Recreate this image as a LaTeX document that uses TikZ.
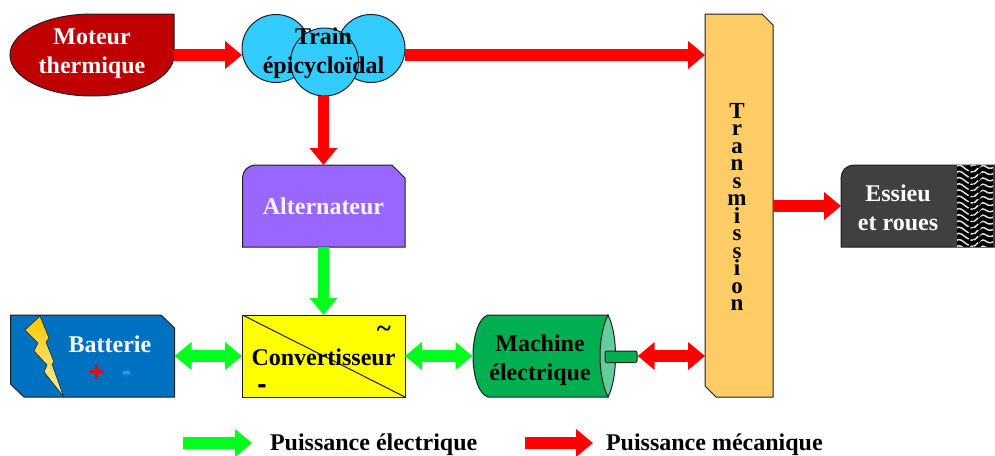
\documentclass[tikz,border=0pt]{standalone}
\usepackage{fontspec}
\setmainfont{Liberation Serif}
\setsansfont{Liberation Sans}
\usetikzlibrary{arrows.meta,calc}
\definecolor{redM}{RGB}{192,0,0}
\definecolor{blueT}{RGB}{51,204,255}
\definecolor{violetA}{RGB}{153,102,255}
\definecolor{blueB}{RGB}{0,112,192}
\definecolor{greenM}{RGB}{0,176,80}
\definecolor{greenL}{RGB}{102,204,153}
\definecolor{orangeT}{RGB}{255,204,102}
\definecolor{greyE}{RGB}{64,64,64}
\definecolor{edgeC}{RGB}{30,30,40}
\definecolor{flowG}{RGB}{0,255,30}
\definecolor{flowR}{RGB}{255,0,0}
\definecolor{yel}{RGB}{255,255,0}
\definecolor{boltA}{RGB}{255,200,0}
\definecolor{boltB}{RGB}{255,250,0}
\definecolor{boltC}{RGB}{240,240,170}
\definecolor{minusB}{RGB}{0,176,240}
\tikzset{
  x=1pt,y=-1pt,
  shapeline/.style={draw=edgeC,line width=1pt},
  lab/.style={font=\fontsize{24}{29}\selectfont\bfseries,align=center,inner sep=0pt,outer sep=0pt},
  sign/.style={font=\fontsize{28}{28}\selectfont\sffamily\bfseries,inner sep=0pt,outer sep=0pt},
  meca/.style={flowR,line width=11.5pt,-{Triangle[length=17pt,width=27pt]}},
  meca2/.style={flowR,line width=11.5pt,{Triangle[length=17pt,width=27pt]}-{Triangle[length=17pt,width=27pt]}},
  elec/.style={flowG,line width=11.5pt,-{Triangle[length=17pt,width=27pt]}},
  elec2/.style={flowG,line width=11.5pt,{Triangle[length=17pt,width=27pt]}-{Triangle[length=17pt,width=27pt]}},
}
\begin{document}
\begin{tikzpicture}
\useasboundingbox (0,0) rectangle (995,455);
% Moteur
\path[fill=redM,shapeline] (174,14) -- (174,55) .. controls (174,77.6) and (137.3,96) .. (92,96) .. controls (46.7,96) and (10,77.6) .. (10,55) .. controls (10,32.4) and (46.7,14) .. (92,14) -- cycle;
\node[lab,minimum width=164pt,minimum height=82pt] (mot) at (92,55) {};
\node[lab,text=white] (motl) at (92,54) {Moteur\\thermique};
% Train
\foreach \cx/\cy in {276/48.5,371/48.5,324.5/62}
  \path[fill=blueT,shapeline] (\cx,\cy) circle[radius=34];
\node[lab,minimum width=163pt,minimum height=82pt] (train) at (323.5,55) {};
\node[lab] (trainl) at (323.5,53.5) {Train\\épicycloïdal};
% Alternateur
\path[fill=violetA,shapeline] (242.5,247) -- (242.5,178) .. controls (242.5,170.8) and (248.3,165) .. (255.5,165) -- (392,165) -- (405,178) -- (405,247) -- cycle;
\node[lab,text=white!92!violetA,minimum width=163pt,minimum height=82pt] (alt) at (323.5,206) {Alternateur};
% Batterie
\path[fill=blueB,shapeline] (10.5,315) -- (161,315) -- (174.5,328) -- (174.5,397) -- (24,397) -- (10.5,384) -- cycle;
\node[lab,minimum width=164pt,minimum height=82pt] (bat) at (92.5,356) {};
\node[lab,text=white] (batl) at (110,344) {Batterie};
\node[sign,text=flowR] (plus) at (96.5,373) {+};
\node[sign,text=minusB] (minus) at (126.5,376) {-};
\shade[top color=boltA,middle color=boltB,bottom color=boltC,draw=edgeC,line width=.6pt]
  (40,316) -- (25,330) -- (38,343) -- (34,351) -- (47,365) -- (44,372) -- (63.5,396.5) -- (52,364) -- (54,362) -- (46,342) -- (49,338) -- cycle;
% Convertisseur
\path[fill=yel,shapeline] (242.5,315) rectangle (405,397);
\draw[edgeC,line width=1pt] (242.5,315) -- (405,397);
\node[lab,minimum width=163pt,minimum height=82pt] (conv) at (323.5,356) {};
\node[lab] (convl) at (323.5,357) {Convertisseur};
\node[font=\fontsize{27}{27}\selectfont\bfseries,inner sep=0pt] (tilde) at (384,332) {\char"7E};
\node[sign] (moins) at (262,389.5) {-};
% Machine
\path[fill=greenM,shapeline] (608,315) -- (488,315) .. controls (478,318) and (473,338) .. (473,356) .. controls (473,374) and (478,394) .. (488,397) -- (608,397) -- cycle;
\path[fill=greenL,shapeline] (608,315) .. controls (603,325) and (600,340) .. (600,356) .. controls (600,372) and (603,387) .. (608,397) .. controls (613,387) and (615.5,372) .. (615.5,356) .. controls (615.5,340) and (613,325) .. (608,315) -- cycle;
\path[fill=greenM,draw=edgeC,line width=1pt,rounded corners=2pt] (605,351) rectangle (637,362.5);
\node[lab,minimum width=143pt,minimum height=82pt] (mach) at (544,356) {};
\node[inner sep=0pt,minimum width=1pt,minimum height=11pt] (shaft) at (637,356) {};
\node[lab] (machl) at (540,360) {Machine\\électrique};
% Transmission
\path[fill=orangeT,shapeline] (705,14) -- (762,14) -- (773,25) -- (773,397) -- (716,397) -- (705,386) -- cycle;
\node[lab,minimum width=68pt,minimum height=383pt] (trans) at (739,205.5) {};
\node[font=\fontsize{23}{17.5}\selectfont\bfseries,align=center,inner sep=0pt] (transl) at (737,207) {T\\r\\a\\n\\s\\m\\i\\s\\s\\i\\o\\n};
% Essieu
\path[fill=greyE,shapeline] (841,247) -- (841,178) .. controls (841,170.8) and (846.8,165) .. (854,165) -- (995,165) -- (995,247) -- cycle;
\node[lab,minimum width=154pt,minimum height=82pt] (ess) at (918,206) {};
\node[lab,text=white] (essl) at (898,208) {Essieu\\et roues};
% pneu
\fill[black] (957,165.5) rectangle (993,246.5);
\begin{scope}
\clip (957,165.5) rectangle (993,246.5);
\foreach \j in {0,...,14}{
  \pgfmathsetmacro\yy{160+\j*6.2}
  \draw[white!88!black,line width=1.5pt] (956,\yy) .. controls (960,\yy-3) and (963,\yy+1) .. (966,\yy+3) .. controls (969,\yy+5) and (972,\yy+7) .. (975,\yy+5) .. controls (979,\yy+1) and (982,\yy-2) .. (985,\yy) .. controls (988,\yy+2) and (990,\yy+3) .. (994,\yy+1);
}
\foreach \j in {0,...,14}{
  \pgfmathsetmacro\yy{163+\j*6.2}
  \draw[black,line width=1.6pt] (968,\yy+4) -- (974,\yy-3);
  \draw[black,line width=1.6pt] (978,\yy+5) -- (984,\yy-2);
}
\end{scope}
% flows
\draw[meca] (mot.east) -- (train.west);
\draw[meca] (train.east) -- (train.east -| trans.west);
\draw[meca] (train.south) -- (alt.north);
\draw[elec] (alt.south) -- (conv.north);
\draw[elec2] (bat.east) -- (conv.west);
\draw[elec2] (conv.east) -- (mach.west);
\draw[meca2] (shaft.east) -- (shaft.east -| trans.west);
\draw[meca] (ess.west -| trans.east) -- (ess.west);
% legend
\coordinate (lga) at (183,443);
\coordinate (lgb) at (252,443);
\coordinate (lra) at (525,443);
\coordinate (lrb) at (593,443);
\draw[elec] (lga) -- (lgb);
\draw[meca] (lra) -- (lrb);
\node[lab,anchor=base west] (lgt) at (270,450) {Puissance électrique};
\node[lab,anchor=base west] (lrt) at (606,450) {Puissance mécanique};
\end{tikzpicture}
\end{document}
